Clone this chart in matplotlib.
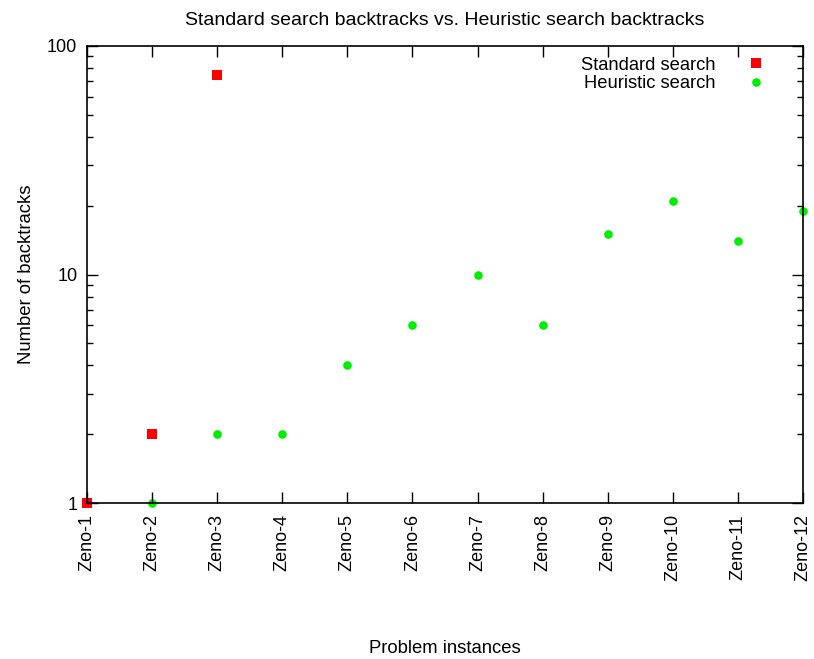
import matplotlib
matplotlib.use("Agg")
import matplotlib.pyplot as plt
from matplotlib.ticker import LogLocator, NullFormatter, FixedLocator

plt.rcParams['font.family'] = ['Liberation Sans', 'DejaVu Sans']

categories = ["Zeno-1", "Zeno-2", "Zeno-3", "Zeno-4", "Zeno-5", "Zeno-6",
              "Zeno-7", "Zeno-8", "Zeno-9", "Zeno-10", "Zeno-11", "Zeno-12"]
standard_idx = [0, 1, 2]
standard_vals = [1, 2, 75]
heuristic_idx = [1, 2, 3, 4, 5, 6, 7, 8, 9, 10, 11]
heuristic_vals = [1, 2, 2, 4, 6, 10, 6, 15, 21, 14, 19]

fig = plt.figure(figsize=(8.14, 6.59), dpi=100)
ax = fig.add_axes([87/814, 1-503/659, (803-87)/814, (503-46)/659])

ax.plot(standard_idx, standard_vals, linestyle='none', marker='s', markersize=6.7,
        color='#ff0000', markeredgewidth=0, label='Standard search', clip_on=False, zorder=1)
ax.plot(heuristic_idx, heuristic_vals, linestyle='none', marker='o', markersize=6.2,
        color='#00ee00', markeredgewidth=0, label='Heuristic search', clip_on=False, zorder=1)

ax.set_yscale('log')
ax.set_ylim(1, 100)
ax.set_xlim(0, 11)
ax.yaxis.set_major_locator(FixedLocator([1, 10, 100]))
ax.set_yticklabels(['1', '10', '100'])
ax.yaxis.set_minor_locator(LogLocator(base=10, subs=[2, 3, 4, 5, 6, 7, 8, 9]))
ax.yaxis.set_minor_formatter(NullFormatter())
ax.set_xticks(range(len(categories)))
ax.set_xticklabels(categories, rotation=90, ha='center', va='top')

ax.tick_params(which='both', direction='in', top=True, right=True, labelsize=13, width=1)
ax.tick_params(which='major', length=8)
ax.tick_params(axis='x', which='major', pad=8)
ax.tick_params(axis='y', which='major', pad=7)
ax.tick_params(which='minor', length=4)
for sp in ax.spines.values():
    sp.set_linewidth(1.2)
    sp.set_zorder(3)

ax.set_title('Standard search backtracks vs. Heuristic search backtracks', fontsize=14, pad=15)
ax.set_ylabel('Number of backtracks', fontsize=13.3, labelpad=9)
ax.set_xlabel('Problem instances', fontsize=13.3, labelpad=42)

leg = ax.legend(loc='upper right', frameon=False, markerfirst=False, fontsize=13.2,
                handletextpad=1.2, borderaxespad=0.3, labelspacing=0.08,
                bbox_to_anchor=(0.978, 1.005))

fig.savefig('out.png', dpi=100)
